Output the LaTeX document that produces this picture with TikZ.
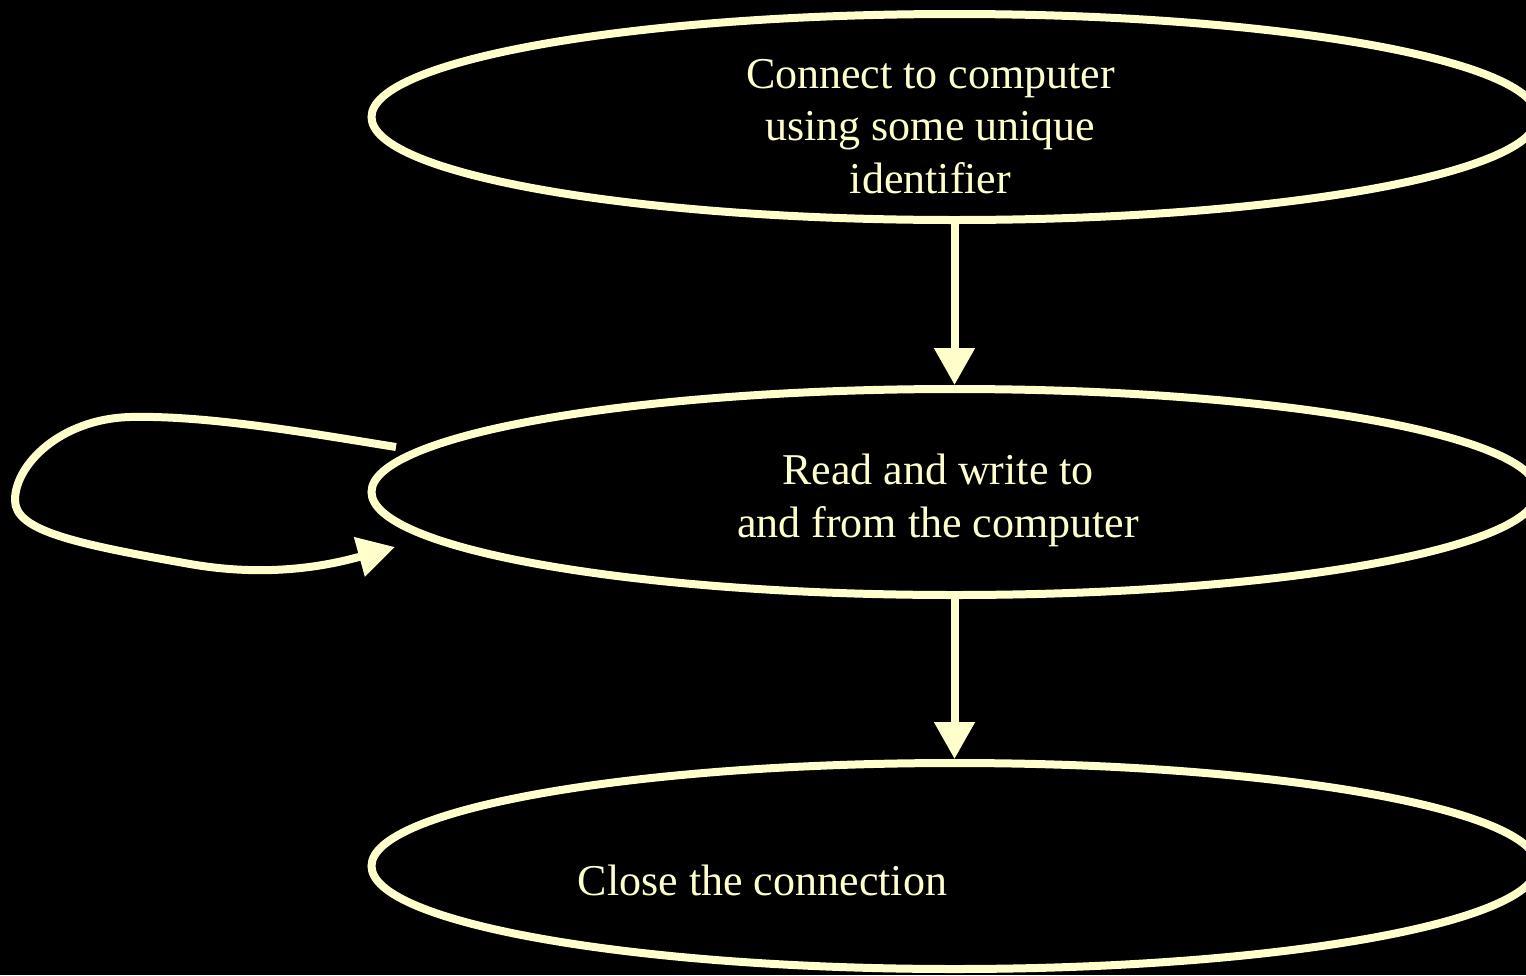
\documentclass[tikz,border=0pt]{standalone}
\usepackage{fontspec}
\setmainfont{Liberation Serif}
\usetikzlibrary{shapes.geometric,arrows.meta}
\definecolor{cream}{HTML}{FFFFCC}
\tikzset{
  state/.style={ellipse, draw=cream, line width=8pt, minimum width=1166pt,
    minimum height=206pt, inner sep=0pt},
  label text/.style={text=cream, align=center, inner sep=0pt, anchor=base,
    font=\fontsize{44pt}{52.5pt}\selectfont},
  flow/.style={draw=cream, line width=8pt,
    -{Triangle[length=37pt,width=39pt]}, fill=none},
}
\begin{document}
\begin{tikzpicture}[x=1pt,y=-1pt]
  \fill[black] (0,0) rectangle (1526,975);
  \useasboundingbox (0,0) rectangle (1526,975);

  % three states
  \node[state] (connect) at (954.5,117) {};
  \node[state] (rw)      at (954.5,492) {};
  \node[state] (close)   at (954.5,866) {};

  % their labels (base anchor sits on the last line)
  \node[label text] (connectlbl) at (930.5,193) {Connect to computer\\using some unique\\identifier};
  \node[label text] (rwlbl) at (938,537) {Read and write to\\and from the computer};
  \node[label text] (closelbl) at (762.5,895) {Close the connection};

  % transitions
  \draw[flow] (connect.south) -- (rw.north);
  \draw[flow] (rw.south) -- (close.north);

  % repeated reads and writes
  \coordinate (loopout) at (396,447);
  \coordinate (loopin) at (395,547);
  \draw[flow] (loopout) .. controls (320,435) and (210,415) .. (130,417)
    .. controls (60,419) and (15,465) .. (15,500)
    .. controls (15,530) and (70,543) .. (190,564)
    .. controls (270,578) and (330,565) .. (loopin);
\end{tikzpicture}
\end{document}
